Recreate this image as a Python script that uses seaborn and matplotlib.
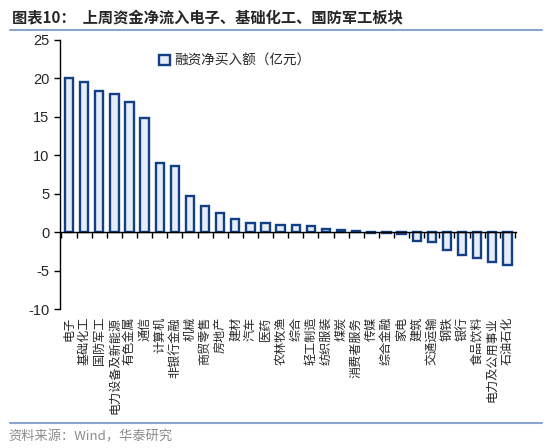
import numpy as np
import pandas as pd
import seaborn as sns
import matplotlib.pyplot as plt
from matplotlib.ticker import FixedLocator

# 行业及融资净买入额（亿元）
categories = ['电子', '基础化工', '国防军工', '电力设备及新能源', '有色金属', '通信',
              '计算机', '非银行金融', '机械', '商贸零售', '房地产', '建材', '汽车',
              '医药', '农林牧渔', '综合', '轻工制造', '纺织服装', '煤炭', '消费者服务',
              '传媒', '综合金融', '家电', '建筑', '交通运输', '钢铁', '银行',
              '食品饮料', '电力及公用事业', '石油石化']
net_buy = [20.1, 19.5, 18.4, 17.9, 16.9, 14.8, 9.0, 8.6, 4.7, 3.4, 2.5, 1.7, 1.2,
           1.15, 0.95, 0.9, 0.8, 0.45, 0.3, 0.2, -0.1, -0.1, -0.25, -1.2, -1.3,
           -2.3, -3.0, -3.3, -3.9, -4.2]
y_ticks = [-10, -5, 0, 5, 10, 15, 20, 25]

title = '图表10：  上周资金净流入电子、基础化工、国防军工板块'
legend_label = '融资净买入额（亿元）'
source = '资料来源：Wind，华泰研究'

sns.set_style('white')
plt.rcParams['font.family'] = ['Noto Sans CJK SC', 'DejaVu Sans']
plt.rcParams['axes.unicode_minus'] = False

df = pd.DataFrame({'industry': categories, 'value': net_buy})

fig = plt.figure(figsize=(5.5, 4.48), dpi=100)
ax = fig.add_axes([0.109, 0.31, 0.83, 0.601])

sns.barplot(data=df, x='industry', y='value', ax=ax, width=0.55,
            color='#E6EDF6', edgecolor='#123F86', linewidth=1.7,
            label=legend_label, saturation=1)

ax.set_ylim(-10, 25)
ax.set_xlim(-0.6, len(categories) - 0.4)
ax.set_yticks(y_ticks)
ax.set_yticklabels([str(t) for t in y_ticks], family='Liberation Sans', fontsize=10.5)
ax.set_xlabel('')
ax.set_ylabel('')

for s in ['top', 'right']:
    ax.spines[s].set_visible(False)
ax.spines['bottom'].set_position(('data', 0))
ax.spines['left'].set_color('black')
ax.spines['bottom'].set_color('black')
ax.spines['left'].set_linewidth(1)
ax.spines['bottom'].set_linewidth(1)

ax.tick_params(axis='y', direction='out', length=4, width=1, color='black', left=True)
ax.xaxis.set_minor_locator(FixedLocator(np.arange(-0.5, len(categories), 1)))
ax.tick_params(axis='x', which='minor', direction='out', length=4, width=1,
               color='black', bottom=True)
ax.tick_params(axis='x', which='major', length=0, pad=61)
ax.set_xticks(range(len(categories)))
ax.set_xticklabels(categories, rotation=90, fontsize=8.7, va='top', ha='center')

ax.legend(loc='upper left', bbox_to_anchor=(0.19, 0.995), frameon=False,
          handlelength=0.8, handleheight=0.8, handletextpad=0.3, fontsize=9.8)

fig.text(0.022, 0.958, title, fontsize=11, fontweight='bold', va='center', ha='left')
fig.add_artist(plt.Line2D([0.018, 0.985], [0.932, 0.932], color='#8AA6CC', linewidth=1.5))
fig.add_artist(plt.Line2D([0.018, 0.985], [0.056, 0.056], color='#8AA6CC', linewidth=1.5))
fig.text(0.015, 0.025, source, fontsize=9.5, color='#8C8C8C', va='center', ha='left')

fig.savefig('out.png', dpi=100)
